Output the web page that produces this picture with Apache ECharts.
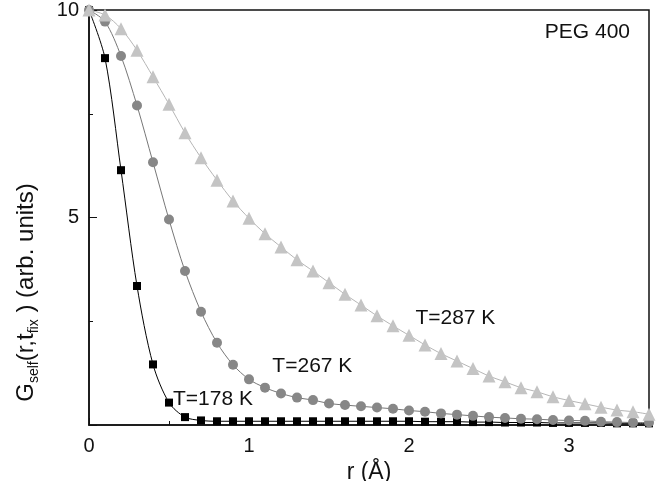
<!DOCTYPE html>
<html>
<head>
<meta charset="utf-8">
<script src="https://cdn.jsdelivr.net/npm/echarts@6/dist/echarts.min.js"></script>
<style>
  html, body { margin: 0; padding: 0; background: #fff; }
  #chart { width: 666px; height: 481px; }
</style>
</head>
<body>
<div id="chart"></div>
<script>
// r in Angstrom
const rValues = [0, 0.1, 0.2, 0.3, 0.4, 0.5, 0.6, 0.7, 0.8, 0.9, 1.0, 1.1, 1.2, 1.3, 1.4, 1.5, 1.6, 1.7,
  1.8, 1.9, 2.0, 2.1, 2.2, 2.3, 2.4, 2.5, 2.6, 2.7, 2.8, 2.9, 3.0, 3.1, 3.2, 3.3, 3.4, 3.5]

const g178 = [10, 8.84, 6.14, 3.35, 1.46, 0.54, 0.19, 0.11, 0.09, 0.09, 0.09, 0.09, 0.09, 0.09, 0.09, 0.09,
  0.09, 0.09, 0.09, 0.09, 0.09, 0.08, 0.08, 0.08, 0.07, 0.07, 0.06, 0.06, 0.06, 0.05, 0.05, 0.05, 0.05, 0.04, 0.04, 0.04]
const g267 = [10, 9.72, 8.89, 7.70, 6.33, 4.95, 3.71, 2.73, 1.98, 1.45, 1.10, 0.90, 0.76, 0.66, 0.60, 0.52,
  0.48, 0.45, 0.42, 0.39, 0.35, 0.32, 0.28, 0.25, 0.22, 0.19, 0.17, 0.15, 0.14, 0.12, 0.11, 0.10, 0.08, 0.07, 0.06, 0.06]
const g287 = [10, 9.88, 9.55, 9.03, 8.39, 7.73, 7.04, 6.44, 5.90, 5.40, 4.98, 4.61, 4.29, 3.98, 3.71, 3.43,
  3.15, 2.89, 2.63, 2.39, 2.16, 1.93, 1.72, 1.54, 1.36, 1.18, 1.04, 0.90, 0.80, 0.68, 0.59, 0.51, 0.43, 0.36, 0.32, 0.26]

const curveNames = ['T=178 K', 'T=267 K', 'T=287 K']
// where each curve label starts, in data units
const labelAnchors = [[0.525, 0.63], [1.146, 1.42], [2.04, 2.58]]

const font = 'Liberation Sans, Arial, sans-serif'

function pairs(ys) {
  return rValues.map((r, i) => [r, ys[i]])
}

function curve(idx, ys, symbol, size, color, lineColor) {
  return {
    name: curveNames[idx],
    type: 'line',
    data: pairs(ys),
    smooth: 0.3,
    symbol: symbol,
    symbolSize: size,
    showAllSymbol: true,
    itemStyle: { color: color, borderWidth: 0 },
    lineStyle: { color: lineColor, width: 1 },
    markPoint: {
      symbol: 'circle',
      symbolSize: 0,
      silent: true,
      label: {
        show: true,
        position: 'right',
        distance: 0,
        formatter: curveNames[idx],
        color: '#111',
        fontFamily: font,
        fontSize: 21
      },
      data: [{ coord: labelAnchors[idx] }]
    },
    z: 2 + idx
  }
}

const chart = echarts.init(document.getElementById('chart'))

const option = {
  animation: false,
  grid: {
    left: 89, right: 17, top: 10, bottom: 56,
    outerBoundsMode: 'none',
    show: true, borderColor: '#111', borderWidth: 1.5
  },
  xAxis: {
    type: 'value',
    min: 0,
    max: 3.5,
    interval: 1,
    name: 'r (Å)',
    nameLocation: 'middle',
    nameGap: 36,
    nameTextStyle: { fontFamily: font, fontSize: 23, color: '#111' },
    axisLine: { lineStyle: { color: '#111', width: 1.5 } },
    axisTick: { inside: true, length: 7, lineStyle: { color: '#111' } },
    minorTick: { show: true, splitNumber: 2, length: 4, lineStyle: { color: '#111' } },
    splitLine: { show: false },
    axisLabel: { fontFamily: font, fontSize: 20, color: '#111', margin: 11, showMaxLabel: false }
  },
  yAxis: {
    type: 'value',
    min: 0,
    max: 10,
    interval: 5,
    name: '{n|G}{s|self}{n|(r,t}{s|fix}{n| ) (arb. units)}',
    nameLocation: 'middle',
    nameRotate: 90,
    nameGap: 48,
    nameTextStyle: {
      fontFamily: font,
      color: '#111',
      padding: [0, 150, 0, 0],
      rich: {
        n: { fontFamily: font, fontSize: 24, color: '#111', lineHeight: 28 },
        s: { fontFamily: font, fontSize: 14, color: '#111', padding: [16, 0, 0, 0] }
      }
    },
    axisLine: { lineStyle: { color: '#111', width: 1.5 } },
    axisTick: { inside: true, length: 8, lineStyle: { color: '#111' } },
    minorTick: { show: true, splitNumber: 2, length: 4, lineStyle: { color: '#111' } },
    splitLine: { show: false },
    axisLabel: {
      fontFamily: font, fontSize: 20, color: '#111', margin: 10,
      formatter: v => (v === 0 ? '' : String(v))
    }
  },
  graphic: [{
    type: 'text',
    right: 36,
    top: 22,
    style: { text: 'PEG 400', font: '21px ' + font, fill: '#111' }
  }],
  series: [
    curve(0, g178, 'rect', 8, '#000', '#000'),
    curve(1, g267, 'circle', 10, '#878787', '#777'),
    curve(2, g287, 'triangle', 13, '#c4c4c4', '#b5b5b5')
  ]
}

chart.setOption(option)
</script>
</body>
</html>
